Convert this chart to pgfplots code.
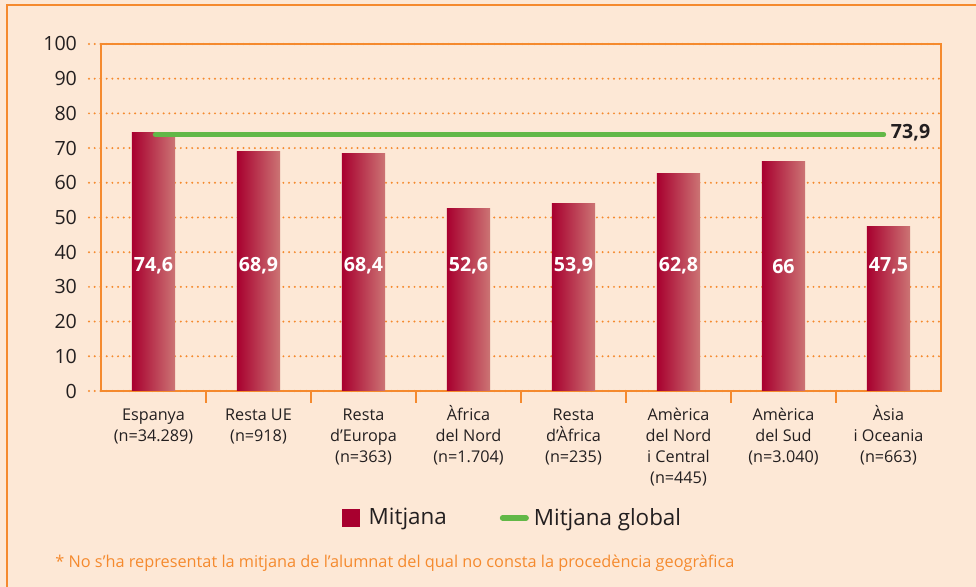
\documentclass[border=0pt]{standalone}
\usepackage{fontspec}
\setmainfont{Open Sans}
\usepackage{pgfplots}
\usepackage{pgfplotstable}
\pgfplotsset{compat=1.18}
\definecolor{bg}{HTML}{FDE8D6}
\definecolor{orng}{HTML}{F58A2E}
\definecolor{barL}{HTML}{A8002F}
\definecolor{barR}{HTML}{CC7474}
\definecolor{grn}{HTML}{62B847}
\definecolor{txt}{HTML}{231F20}

\pgfplotstableread{
x v pos
0 74.6 36
1 68.9 36
2 68.4 36
3 52.6 36
4 53.9 36
5 62.8 36
6 66 36
7 47.5 36
}\data

\pgfplotsset{mybar/.style={ybar, bar width=0.41, bar shift=0pt, draw=none, left color=barL, right color=barR, forget plot}}
\newcommand{\fl}{\vphantom{À}}

\begin{document}
\begin{tikzpicture}
\fill[bg] (0pt,0pt) rectangle (488pt,293.5pt);
\path[use as bounding box] (0pt,0pt) rectangle (488pt,293.5pt);
\draw[orng, line width=1pt] (3.5pt,0pt) -- (3.5pt,291pt) -- (488pt,291pt);
\begin{axis}[
  at={(50.5pt,98pt)}, anchor=south west,
  scale only axis, width=420pt, height=173.5pt,
  xmin=-0.5, xmax=7.5, ymin=0, ymax=100,
  clip=false,
  axis line style={orng, line width=1.3pt},
  tick align=outside,
  major tick length=6pt,
  xtick pos=lower, ytick pos=left,
  ytick={0,10,...,100},
  y tick style={orng, line width=1.1pt, dash pattern=on 0pt off 2.85pt, line cap=round},
  ymajorgrids,
  major grid style={orng, line width=1.1pt, dash pattern=on 0pt off 2.85pt, line cap=round},
  xtick={0.5,1.5,...,6.5},
  xticklabels={},
  x tick style={orng, line width=1.3pt, solid},
  extra x ticks={0,1,...,7},
  extra x tick labels={\fl Espanya\\(n=34.289),\fl Resta UE\\(n=918),\fl Resta\\d’Europa\\(n=363),\fl Àfrica\\del Nord\\(n=1.704),\fl Resta\\d’Àfrica\\(n=235),\fl Amèrica\\del Nord\\i Central\\(n=445),\fl Amèrica\\del Sud\\(n=3.040),\fl Àsia\\i Oceania\\(n=663)},
  extra x tick style={tick style={draw=none}},
  xticklabel style={align=center, font=\fontsize{8.1}{10.5}\selectfont, text=txt, yshift=2.5pt},
  yticklabel style={font=\fontsize{9.8}{12}\selectfont, text=txt, xshift=-2.5pt},
  /pgf/number format/assume math mode=true,
  /pgf/number format/use comma,
  legend style={at={(0.491,-0.366)}, anchor=center, draw=none, fill=none,
    font=\fontsize{11.2}{13}\selectfont, text=txt,
    /tikz/every even column/.append style={column sep=24.5pt}},
  legend columns=-1,
]
\addlegendimage{legend image code/.code={\path[draw=none, fill=none] (0pt,0pt) -- (11.5pt,0pt); \fill[barL, draw=none] (0pt,-4.5pt) rectangle (9pt,4.5pt);}}
\addlegendentry{Mitjana}
\addplot[grn, line width=2.8pt, line cap=round,
  legend image code/.code={\path[draw=none, fill=none] (0pt,0pt) -- (15pt,0pt); \draw[grn, line width=2.6pt, line cap=round] (1.3pt,0pt) -- (13.2pt,0pt);}]
  coordinates {(0.02,73.9) (6.95,73.9)};
\addlegendentry{Mitjana global}
\addplot[mybar] coordinates {(0,74.6)};
\addplot[mybar] coordinates {(1,68.9)};
\addplot[mybar] coordinates {(2,68.4)};
\addplot[mybar] coordinates {(3,52.6)};
\addplot[mybar] coordinates {(4,53.9)};
\addplot[mybar] coordinates {(5,62.8)};
\addplot[mybar] coordinates {(6,66)};
\addplot[mybar] coordinates {(7,47.5)};
\addplot[grn, line width=2.8pt, line cap=round, forget plot]
  coordinates {(0.02,73.9) (6.95,73.9)};
\addplot[draw=none, mark=none, forget plot, nodes near coords, point meta=explicit,
  nodes near coords style={anchor=center, text=white, font=\fontsize{9.8}{12}\selectfont\bfseries}]
  table[x=x, y=pos, meta=v] {\data};
\node[anchor=west, text=txt, font=\fontsize{9.8}{12}\selectfont\bfseries, inner sep=0pt] at (axis cs:7.02,74.4) {73,9};
\end{axis}
\node[anchor=base west, text=orng, font=\fontsize{8.15}{10}\selectfont, inner sep=0pt] at (27.5pt,9.5pt) {* No s’ha representat la mitjana de l’alumnat del qual no consta la procedència geogràfica};
\end{tikzpicture}
\end{document}
